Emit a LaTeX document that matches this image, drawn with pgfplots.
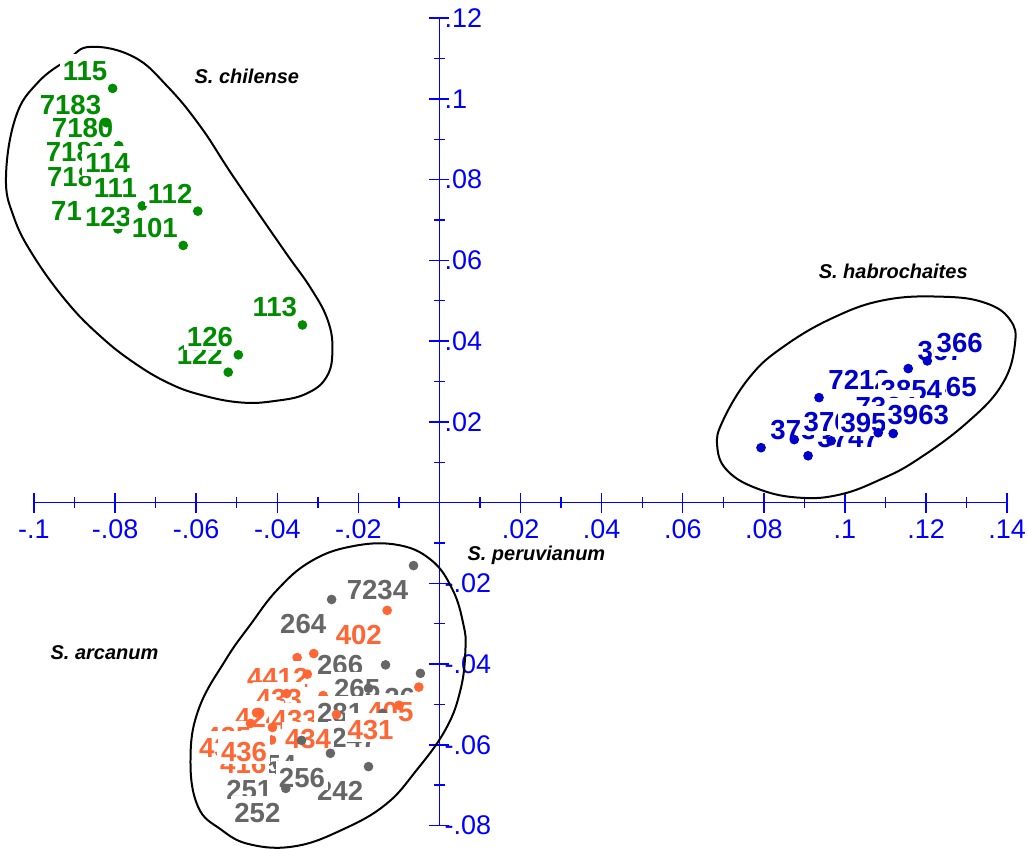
\documentclass[border=0pt]{standalone}
\usepackage{fontspec}
\setmainfont{Liberation Sans}
\usepackage{pgfplots}
\pgfplotsset{compat=1.18}
\definecolor{cgreen}{RGB}{0,140,0}
\definecolor{cblue}{RGB}{0,0,204}
\definecolor{cgray}{RGB}{102,102,102}
\definecolor{corange}{RGB}{255,102,51}
\definecolor{caxis}{RGB}{0,0,255}
\newcommand\labfont{\fontsize{13.8}{14}\selectfont\bfseries}
\newcommand\tickfont{\fontsize{13.5}{14}\selectfont}
\newcommand\spfont{\fontsize{10}{12}\selectfont\bfseries\itshape}
\pgfplotsset{
  pt/.style={only marks, mark=*, mark size=2.2pt, point meta=explicit symbolic,
    nodes near coords,
    nodes near coords style={font=\labfont, fill=white, inner xsep=1.5pt, inner ysep=1pt,
      text height=12.2pt, text depth=0.5pt}},
  Gs/.style={pt, color=cgreen, mark options={draw=cgreen, fill=cgreen},
    nodes near coords style={text=cgreen, anchor=base east, xshift=-1pt, yshift=4pt}},
  Bs/.style={pt, color=cblue, mark options={draw=cblue, fill=cblue},
    nodes near coords style={text=cblue, anchor=base west, xshift=3pt, yshift=4pt}},
  Ks/.style={pt, color=cgray, mark options={draw=cgray, fill=cgray},
    nodes near coords style={text=cgray, anchor=base east, xshift=-1pt, yshift=-17pt}},
  Os/.style={pt, color=corange, mark options={draw=corange, fill=corange},
    nodes near coords style={text=corange, anchor=base east, xshift=-1pt, yshift=-17pt}},
}
\newcommand{\Gp}[3]{\addplot[Gs] coordinates {(#1,#2)[#3]};}
\newcommand{\Bp}[3]{\addplot[Bs] coordinates {(#1,#2)[#3]};}
\newcommand{\Kp}[3]{\addplot[Ks] coordinates {(#1,#2)[#3]};}
\newcommand{\Op}[3]{\addplot[Os] coordinates {(#1,#2)[#3]};}
\begin{document}
\begin{tikzpicture}
\begin{axis}[
  x=2029pt, y=2020pt,
  xmin=-0.10838, xmax=0.14514, ymin=-0.08564, ymax=0.1245,
  axis lines=middle,
  axis line style={draw=none},
  clip=false,
  xtick={-0.1,-0.08,-0.06,-0.04,-0.02,0.02,0.04,0.06,0.08,0.1,0.12,0.14},
  xticklabels={-.1,-.08,-.06,-.04,-.02,.02,.04,.06,.08,.1,.12,.14},
  minor xtick={-0.09,-0.07,-0.05,-0.03,-0.01,0.01,0.03,0.05,0.07,0.09,0.11,0.13},
  ytick={-0.08,-0.06,-0.04,-0.02,0.02,0.04,0.06,0.08,0.1,0.12},
  yticklabels={-.08,-.06,-.04,-.02,.02,.04,.06,.08,.1,.12},
  minor ytick={-0.07,-0.05,-0.03,-0.01,0.01,0.03,0.05,0.07,0.09,0.11},
  tick align=center,
  major tick length=10pt, minor tick length=5.5pt,
  every tick/.style={draw=caxis, line width=0.7pt},
  tick label style={font=\tickfont, text=caxis},
  xticklabel style={anchor=north, yshift=0pt},
  yticklabel style={anchor=west, xshift=4pt},
  scaled ticks=false,
]
\coordinate (bl) at (axis cs:-0.10838,-0.08564);
\coordinate (tr) at (axis cs:0.14514,0.1245);
\draw[caxis, line width=0.7pt] (axis cs:-0.1,0) -- (axis cs:0.14,0);
\draw[caxis, line width=0.7pt] (axis cs:0,-0.08) -- (axis cs:0,0.12);
% outlines
\draw[black, line width=1pt] plot[smooth cycle, tension=0.7] coordinates {
 (axis cs:-0.0860,0.1129) (axis cs:-0.0754,0.1104) (axis cs:-0.0670,0.1030) (axis cs:-0.0589,0.0931)
 (axis cs:-0.0508,0.0807) (axis cs:-0.0384,0.0626) (axis cs:-0.0318,0.0532) (axis cs:-0.0276,0.0453)
 (axis cs:-0.0264,0.0379) (axis cs:-0.0278,0.0312) (axis cs:-0.0328,0.0270) (axis cs:-0.0404,0.0252)
 (axis cs:-0.0490,0.0248) (axis cs:-0.0589,0.0267) (axis cs:-0.0670,0.0297) (axis cs:-0.0754,0.0347)
 (axis cs:-0.0835,0.0411) (axis cs:-0.0917,0.0495) (axis cs:-0.1000,0.0609) (axis cs:-0.1050,0.0708)
 (axis cs:-0.1069,0.0807) (axis cs:-0.1045,0.0955) (axis cs:-0.0991,0.1040) (axis cs:-0.0917,0.1097)};
\draw[black, line width=1pt] plot[smooth cycle, tension=0.7] coordinates {
 (axis cs:0.1240,0.0510) (axis cs:0.1345,0.0495) (axis cs:0.1407,0.0453) (axis cs:0.1419,0.0391)
 (axis cs:0.1387,0.0292) (axis cs:0.1301,0.0198) (axis cs:0.1178,0.0106) (axis cs:0.1087,0.0057)
 (axis cs:0.0988,0.0020) (axis cs:0.0890,0.0012) (axis cs:0.0791,0.0032) (axis cs:0.0712,0.0077)
 (axis cs:0.0685,0.0139) (axis cs:0.0700,0.0205) (axis cs:0.0766,0.0312) (axis cs:0.0848,0.0386)
 (axis cs:0.0971,0.0458) (axis cs:0.1099,0.0502)};
\draw[black, line width=1pt] plot[smooth cycle, tension=0.7] coordinates {
 (axis cs:-0.0219,-0.0109) (axis cs:-0.0108,-0.0104) (axis cs:-0.0022,-0.0141) (axis cs:0.0032,-0.0215)
 (axis cs:0.0059,-0.0302) (axis cs:0.0064,-0.0364) (axis cs:0.0052,-0.0463) (axis cs:0.0015,-0.0562)
 (axis cs:-0.0059,-0.0666) (axis cs:-0.0133,-0.0748) (axis cs:-0.0237,-0.0809) (axis cs:-0.0355,-0.0851)
 (axis cs:-0.0466,-0.0847) (axis cs:-0.0540,-0.0809) (axis cs:-0.0596,-0.0752) (axis cs:-0.0614,-0.0636)
 (axis cs:-0.0594,-0.0512) (axis cs:-0.0527,-0.0389) (axis cs:-0.0466,-0.0302) (axis cs:-0.0399,-0.0215)
 (axis cs:-0.0318,-0.0146)};
% species labels
\node[font=\spfont] at (axis cs:-0.0475,0.1057) {S. chilense};
\node[font=\spfont] at (axis cs:0.1119,0.0572) {S. habrochaites};
\node[font=\spfont] at (axis cs:0.0239,-0.0131) {S. peruvianum};
\node[font=\spfont] at (axis cs:-0.0826,-0.0371) {S. arcanum};
% S. chilense
\Gp{-0.0793}{0.0678}{7179}
\Gp{-0.0803}{0.0762}{7185}
\Gp{-0.0806}{0.0824}{7181}
\Gp{-0.0791}{0.0884}{7180}
\Gp{-0.0821}{0.0941}{7183}
\Gp{-0.0806}{0.1026}{115}
\Gp{-0.0750}{0.0797}{114}
\Gp{-0.0733}{0.0735}{111}
\Gp{-0.0747}{0.0665}{123}
\Gp{-0.0596}{0.0722}{112}
\Gp{-0.0632}{0.0637}{101}
\Gp{-0.0338}{0.0440}{113}
\Gp{-0.0521}{0.0323}{122}
\Gp{-0.0496}{0.0366}{126}
% S. habrochaites
\Bp{0.0793}{0.0136}{3735}
\Bp{0.0909}{0.0116}{3747}
\Bp{0.0936}{0.0260}{7212}
\Bp{0.1188}{0.0243}{465}
\Bp{0.1065}{0.0235}{3854}
\Bp{0.1003}{0.0193}{7384}
\Bp{0.0875}{0.0156}{376}
\Bp{0.0966}{0.0153}{395}
\Bp{0.1119}{0.0171}{392}
\Bp{0.1082}{0.0173}{3963}
\Bp{0.1156}{0.0332}{367}
\Bp{0.1203}{0.0351}{366}
% S. peruvianum / S. arcanum
\Kp{-0.0064}{-0.0156}{7234}
\Kp{-0.0266}{-0.0240}{264}
\Kp{-0.0175}{-0.0342}{266}
\Op{-0.0129}{-0.0267}{402}
\Op{-0.0351}{-0.0384}{441}
\Op{-0.0310}{-0.0374}{4412}
\Op{-0.0326}{-0.0425}{433}
\Kp{-0.0047}{-0.0423}{226}
\Kp{-0.0133}{-0.0402}{265}
\Op{-0.0377}{-0.0473}{424}
\Op{-0.0287}{-0.0478}{433}
\Kp{-0.0175}{-0.0460}{281}
\Op{-0.0051}{-0.0457}{405}
\Kp{-0.0140}{-0.0522}{247}
\Op{-0.0100}{-0.0502}{431}
\Op{-0.0254}{-0.0525}{434}
\Op{-0.0451}{-0.0521}{425}
\Op{-0.0466}{-0.0547}{435}
\Kp{-0.0340}{-0.0589}{254}
\Op{-0.0414}{-0.0588}{416}
\Op{-0.0412}{-0.0557}{436}
\Kp{-0.0399}{-0.0651}{251}
\Kp{-0.0175}{-0.0654}{242}
\Kp{-0.0269}{-0.0621}{256}
\Kp{-0.0379}{-0.0708}{252}
\end{axis}
\pgfresetboundingbox
\path[use as bounding box] (bl) rectangle (tr);
\end{tikzpicture}
\end{document}
